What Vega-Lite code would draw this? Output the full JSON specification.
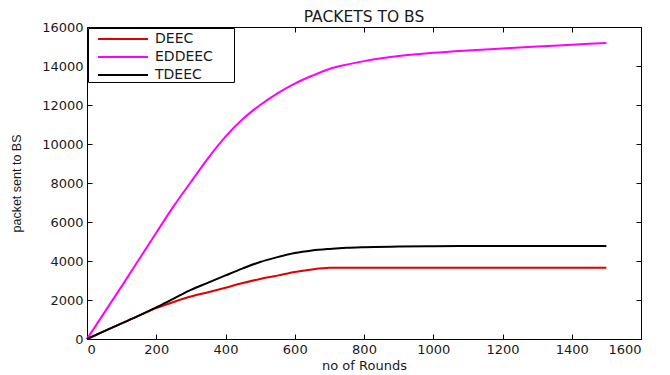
{
  "$schema": "https://vega.github.io/schema/vega-lite/v6.json",
  "width": 554,
  "height": 312,
  "autosize": "none",
  "padding": {"left": 87, "top": 27, "right": 29, "bottom": 36},
  "background": "white",
  "config": {
    "font": "DejaVu Sans",
    "view": {"stroke": "black", "strokeWidth": 1},
    "axis": {
      "grid": false,
      "domain": false,
      "tickColor": "black",
      "tickSize": -5,
      "labelPadding": 9,
      "labelFontSize": 13,
      "labelFont": "DejaVu Sans",
      "labelColor": "#1a1a1a",
      "titleFontSize": 13,
      "titleFont": "DejaVu Sans",
      "titleFontWeight": "normal",
      "titleColor": "#1a1a1a"
    }
  },
  "title": {"text": "PACKETS TO BS", "fontSize": 15.5, "fontWeight": "normal", "offset": -4, "color": "#1a1a1a", "font": "DejaVu Sans"},
  "data": {"values": [
    {"round": 0, "packets": 0, "series": "DEEC"},
    {"round": 50, "packets": 400, "series": "DEEC"},
    {"round": 100, "packets": 800, "series": "DEEC"},
    {"round": 150, "packets": 1200, "series": "DEEC"},
    {"round": 200, "packets": 1580, "series": "DEEC"},
    {"round": 250, "packets": 1900, "series": "DEEC"},
    {"round": 300, "packets": 2180, "series": "DEEC"},
    {"round": 350, "packets": 2400, "series": "DEEC"},
    {"round": 400, "packets": 2630, "series": "DEEC"},
    {"round": 450, "packets": 2870, "series": "DEEC"},
    {"round": 500, "packets": 3080, "series": "DEEC"},
    {"round": 550, "packets": 3250, "series": "DEEC"},
    {"round": 600, "packets": 3440, "series": "DEEC"},
    {"round": 650, "packets": 3570, "series": "DEEC"},
    {"round": 700, "packets": 3650, "series": "DEEC"},
    {"round": 750, "packets": 3660, "series": "DEEC"},
    {"round": 800, "packets": 3660, "series": "DEEC"},
    {"round": 1000, "packets": 3660, "series": "DEEC"},
    {"round": 1200, "packets": 3660, "series": "DEEC"},
    {"round": 1500, "packets": 3660, "series": "DEEC"},
    {"round": 0, "packets": 0, "series": "EDDEEC"},
    {"round": 100, "packets": 2700, "series": "EDDEEC"},
    {"round": 200, "packets": 5450, "series": "EDDEEC"},
    {"round": 250, "packets": 6800, "series": "EDDEEC"},
    {"round": 300, "packets": 8050, "series": "EDDEEC"},
    {"round": 350, "packets": 9280, "series": "EDDEEC"},
    {"round": 400, "packets": 10380, "series": "EDDEEC"},
    {"round": 450, "packets": 11280, "series": "EDDEEC"},
    {"round": 500, "packets": 12000, "series": "EDDEEC"},
    {"round": 550, "packets": 12600, "series": "EDDEEC"},
    {"round": 600, "packets": 13100, "series": "EDDEEC"},
    {"round": 650, "packets": 13500, "series": "EDDEEC"},
    {"round": 700, "packets": 13850, "series": "EDDEEC"},
    {"round": 750, "packets": 14070, "series": "EDDEEC"},
    {"round": 800, "packets": 14250, "series": "EDDEEC"},
    {"round": 900, "packets": 14510, "series": "EDDEEC"},
    {"round": 1000, "packets": 14680, "series": "EDDEEC"},
    {"round": 1100, "packets": 14800, "series": "EDDEEC"},
    {"round": 1200, "packets": 14900, "series": "EDDEEC"},
    {"round": 1300, "packets": 15000, "series": "EDDEEC"},
    {"round": 1400, "packets": 15090, "series": "EDDEEC"},
    {"round": 1500, "packets": 15180, "series": "EDDEEC"},
    {"round": 0, "packets": 0, "series": "TDEEC"},
    {"round": 50, "packets": 400, "series": "TDEEC"},
    {"round": 100, "packets": 800, "series": "TDEEC"},
    {"round": 150, "packets": 1200, "series": "TDEEC"},
    {"round": 200, "packets": 1620, "series": "TDEEC"},
    {"round": 250, "packets": 2070, "series": "TDEEC"},
    {"round": 300, "packets": 2520, "series": "TDEEC"},
    {"round": 350, "packets": 2890, "series": "TDEEC"},
    {"round": 400, "packets": 3260, "series": "TDEEC"},
    {"round": 450, "packets": 3620, "series": "TDEEC"},
    {"round": 500, "packets": 3950, "series": "TDEEC"},
    {"round": 550, "packets": 4200, "series": "TDEEC"},
    {"round": 600, "packets": 4410, "series": "TDEEC"},
    {"round": 650, "packets": 4540, "series": "TDEEC"},
    {"round": 700, "packets": 4620, "series": "TDEEC"},
    {"round": 750, "packets": 4680, "series": "TDEEC"},
    {"round": 800, "packets": 4710, "series": "TDEEC"},
    {"round": 900, "packets": 4740, "series": "TDEEC"},
    {"round": 1000, "packets": 4760, "series": "TDEEC"},
    {"round": 1200, "packets": 4770, "series": "TDEEC"},
    {"round": 1500, "packets": 4770, "series": "TDEEC"}
  ]},
  "layer": [
    {
      "mark": {"type": "line", "strokeWidth": 2, "interpolate": "monotone"},
      "encoding": {
        "x": {"field": "round", "type": "quantitative", "scale": {"domain": [0, 1600], "nice": false},
              "axis": {"title": "no of Rounds", "format": "d", "values": [0,200,400,600,800,1000,1200,1400,1600], "titlePadding": 3}},
        "y": {"field": "packets", "type": "quantitative", "scale": {"domain": [0, 16000], "nice": false},
              "axis": {"title": "packet sent to BS", "titleFont": "Liberation Sans", "titleFontSize": 12.5, "values": [0,2000,4000,6000,8000,10000,12000,14000,16000], "format": "d", "titlePadding": 18}},
        "color": {"field": "series", "type": "nominal",
          "scale": {"domain": ["DEEC", "EDDEEC", "TDEEC"], "range": ["#e00000", "#ff00ff", "#000000"]},
          "legend": {"orient": "none", "legendX": 1, "legendY": 1, "title": null,
            "symbolType": "M-0.1,0H4.9", "symbolSize": 400, "symbolStrokeWidth": 2,
            "labelFontSize": 14, "labelFont": "DejaVu Sans", "labelColor": "#1a1a1a", "labelOffset": 45,
            "labelExpr": "datum.label + '\u2800\u2800'",
            "strokeColor": "black", "fillColor": "white", "padding": 0, "rowPadding": 0}}
      }
    },
    {
      "mark": {"type": "line", "opacity": 0},
      "encoding": {
        "x": {"field": "round", "type": "quantitative", "scale": {"domain": [0, 1600], "nice": false},
              "axis": {"orient": "top", "labels": false, "labelPadding": 0, "title": null, "values": [0,200,400,600,800,1000,1200,1400,1600]}},
        "y": {"field": "packets", "type": "quantitative", "scale": {"domain": [0, 16000], "nice": false},
              "axis": {"orient": "right", "labels": false, "labelPadding": 0, "title": null, "values": [0,2000,4000,6000,8000,10000,12000,14000,16000]}}
      }
    }
  ],
  "resolve": {"axis": {"x": "independent", "y": "independent"}}
}
